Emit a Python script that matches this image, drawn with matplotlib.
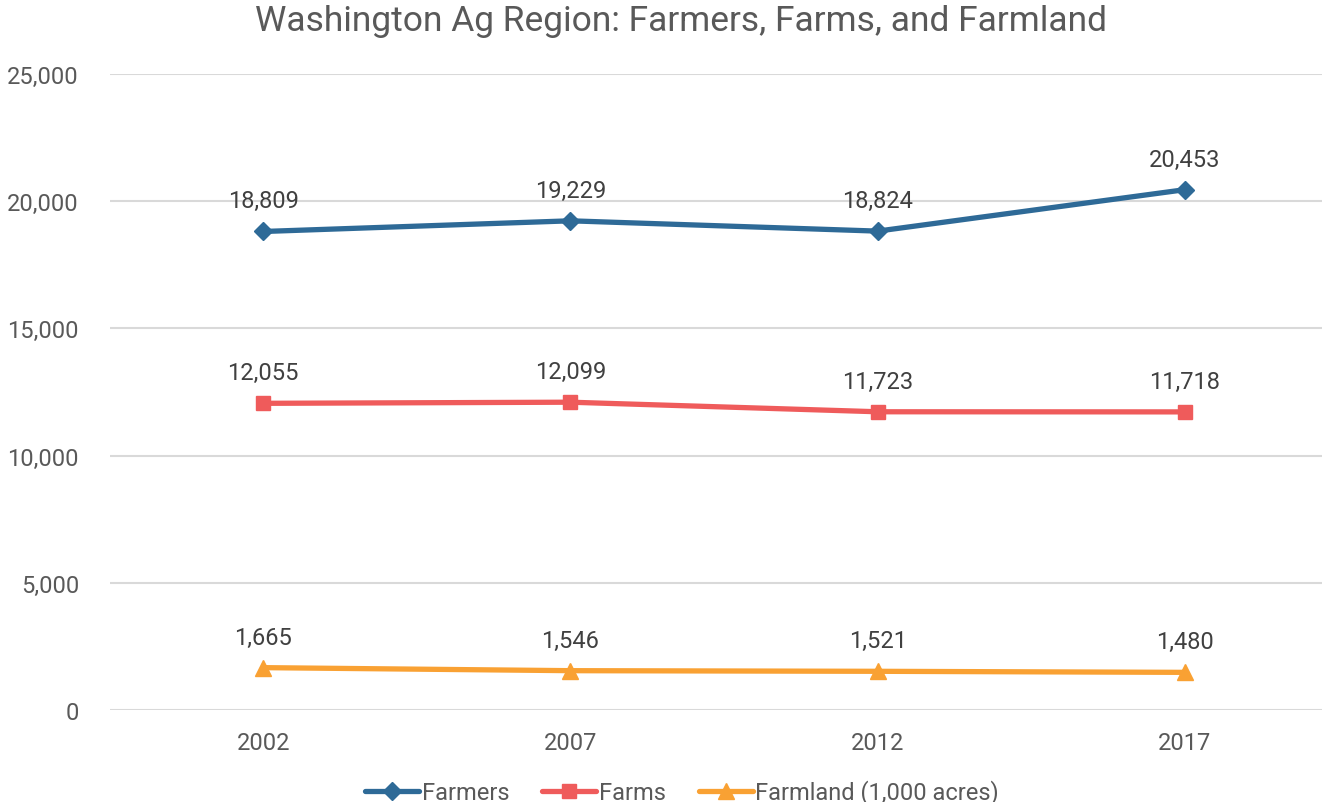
import matplotlib
matplotlib.use('Agg')
import matplotlib.pyplot as plt
from matplotlib.ticker import FuncFormatter

plt.rcParams['font.family'] = ['Roboto', 'DejaVu Sans']

years = ['2002', '2007', '2012', '2017']
farmers = [18809, 19229, 18824, 20453]
farms = [12055, 12099, 11723, 11718]
farmland = [1665, 1546, 1521, 1480]

series = [
    ('Farmers', farmers, '#2E6A97', 'D', 9),
    ('Farms', farms, '#EF5B5B', 's', 10),
    ('Farmland (1,000 acres)', farmland, '#F9A133', '^', 11),
]

fig = plt.figure(figsize=(13.22, 8.03), dpi=100)
ax = fig.add_axes([109.5 / 1322, 92 / 803, 1229 / 1322, 636 / 803])

x = list(range(len(years)))
for name, vals, color, marker, ms in series:
    ax.plot(x, vals, color=color, lw=3.8, marker=marker, markersize=ms,
            label=name, solid_capstyle='round')
    for xi, v in zip(x, vals):
        ax.annotate(f'{v:,}', (xi, v), xytext=(0, 22), textcoords='offset points',
                    ha='center', va='center', fontsize=17, color='#404040')

ax.set_xlim(-0.5, 3.5)
ax.set_ylim(0, 25000)
ax.set_yticks(range(0, 25001, 5000))
ax.yaxis.set_major_formatter(FuncFormatter(lambda v, p: f'{int(v):,}'))
ax.set_xticks(x)
ax.set_xticklabels(years)
ax.tick_params(length=0, labelsize=17, labelcolor='#595959')
ax.tick_params(axis='y', pad=22)
ax.tick_params(axis='x', pad=15)
ax.grid(axis='y', color='#D9D9D9', lw=1.5)
ax.set_axisbelow(True)
for s in ax.spines.values():
    s.set_visible(False)

fig.text(681 / 1322, 1 - 22 / 803, 'Washington Ag Region: Farmers, Farms, and Farmland',
         ha='center', va='center', fontsize=25.5, color='#595959')

fig.legend(loc='center', bbox_to_anchor=(682 / 1322, 1 - 793 / 803), ncol=3,
           frameon=False, fontsize=17, labelcolor='#595959', handlelength=2.3,
           handletextpad=0.1, columnspacing=1.4)

fig.savefig('out.png', dpi=100)
